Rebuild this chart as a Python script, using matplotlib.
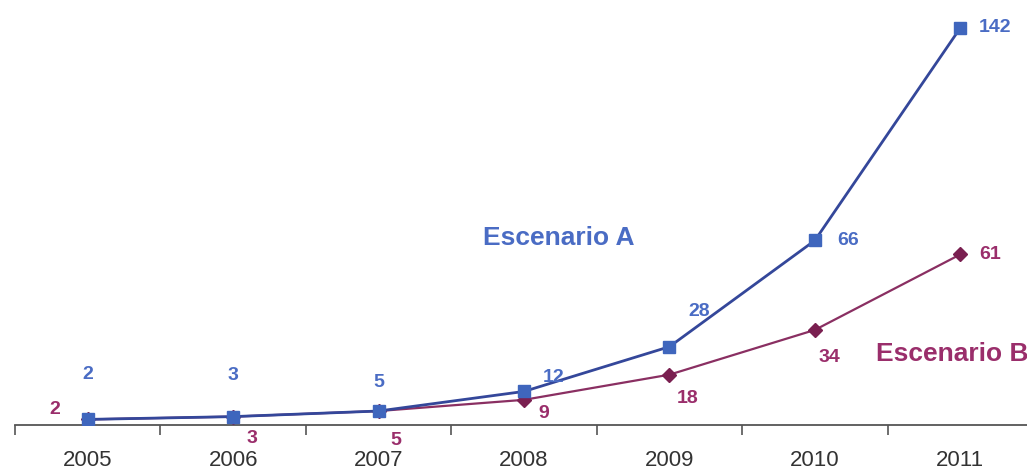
import matplotlib
matplotlib.use("Agg")
import matplotlib.pyplot as plt
import numpy as np

years = ["2005", "2006", "2007", "2008", "2009", "2010", "2011"]
escenario_a = [2, 3, 5, 12, 28, 66, 142]
escenario_b = [2, 3, 5, 9, 18, 34, 61]

# label offsets in pixels (dx, dy)
off_a = [(0, 45), (0, 41), (0, 29), (30, 14), (30, 35), (33, 0), (35, 0)]
off_b = [(-33, 10), (19, -22), (17, -29), (20, -14), (18, -24), (15, -28), (30, 0)]

blue_line = "#34479a"
blue_mark = "#3f66bd"
blue_text = "#4a6cc4"
purp_line = "#8a2f62"
purp_mark = "#7a1f50"
purp_text = "#9a2e6b"

FONT = ["Liberation Sans", "DejaVu Sans"]

fig = plt.figure(figsize=(10.27, 4.75), dpi=100)
ax = fig.add_axes([15 / 1027, 50 / 475, 1018 / 1027, 425 / 475])
x = np.arange(len(years))

ax.plot(x, escenario_b, color=purp_line, lw=1.6, marker="D", ms=7,
        mfc=purp_mark, mec=purp_mark, zorder=3)
ax.plot(x, escenario_a, color=blue_line, lw=2.0, marker="s", ms=8.5,
        mfc=blue_mark, mec=blue_mark, zorder=4)

for xi, v, (dx, dy) in zip(x, escenario_a, off_a):
    ax.annotate(str(v), (xi, v), xytext=(dx, dy), textcoords="offset pixels",
                ha="center", va="center", color=blue_text, fontsize=14,
                fontweight="bold", family=FONT, zorder=5)
for xi, v, (dx, dy) in zip(x, escenario_b, off_b):
    ax.annotate(str(v), (xi, v), xytext=(dx, dy), textcoords="offset pixels",
                ha="center", va="center", color=purp_text, fontsize=14,
                fontweight="bold", family=FONT, zorder=5)

ax.text(3.24, 67, "Escenario A", color=blue_text, fontsize=19, ha="center",
        va="center", fontweight="bold", family=FONT)
ax.text(6.47, 25.5, "Escenario B", color=purp_text, fontsize=19, ha="right",
        va="center", fontweight="bold", family=FONT)

ax.set_xlim(-0.5, 6.5)
ax.set_ylim(0, 152)
for s in ["top", "right", "left"]:
    ax.spines[s].set_visible(False)
ax.spines["bottom"].set_color("#555555")
ax.spines["bottom"].set_linewidth(1.3)
ax.set_yticks([])
ax.set_xticks(np.arange(-0.5, 7.0, 1.0))
ax.set_xticklabels([])
ax.set_xticks(x, minor=True)
ax.set_xticklabels(years, minor=True, fontsize=16, family=FONT, color="#333333")
ax.tick_params(axis="x", which="major", direction="out", length=7, width=1.2,
               color="#555555")
ax.tick_params(axis="x", which="minor", length=0, pad=18)

fig.savefig("out.png", dpi=100)
